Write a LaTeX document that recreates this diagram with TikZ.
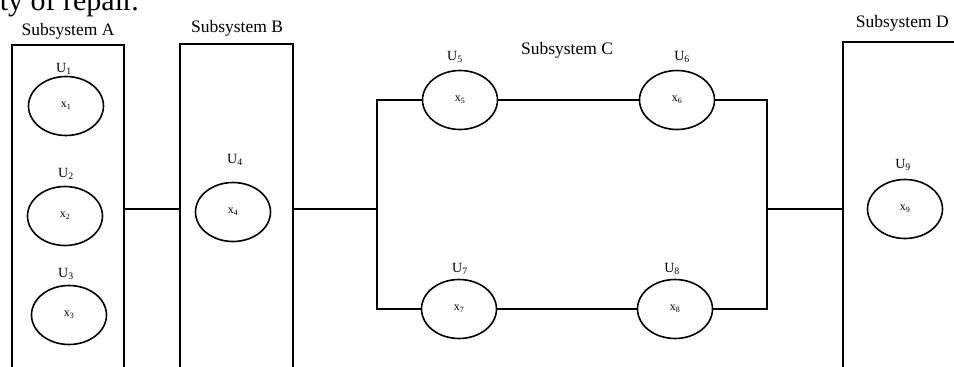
\documentclass[tikz,border=0pt]{standalone}
\usepackage{fontspec}
\setmainfont{Liberation Serif}
\usetikzlibrary{shapes.geometric}

\begin{document}
\begin{tikzpicture}[x=1pt, y=-1pt, line width=1.6pt]
	\tikzstyle{unit} = [ellipse, draw, minimum width=75pt, minimum height=59pt, inner sep=0pt, font=\fontsize{12}{14}\selectfont]
	\tikzstyle{head} = [inner sep=0pt, anchor=base, font=\fontsize{17.5}{20}\selectfont]
	\tikzstyle{rate} = [inner sep=0pt, anchor=base, font=\fontsize{14}{16}\selectfont]
	\useasboundingbox (0,0) rectangle (954,367);

	% Text cut off at the top
	\node[inner sep=0pt, anchor=base west, font=\fontsize{30}{33}\selectfont] (cut) at (-1,10) {ty of repair.};

	% Subsystem titles
	\node[head] (SA) at (68,35) {Subsystem A};
	\node[head] (SB) at (237,32) {Subsystem B};
	\node[head] (SC) at (567,54) {Subsystem C};
	\node[head, anchor=base west] (SD) at (855,27) {Subsystem D};

	% Subsystem frames (open at the bottom)
	\draw (12,375) -- (12,45) -- (124,45) -- (124,375);
	\draw (180,375) -- (180,44) -- (293,44) -- (293,375);
	\draw (843,375) -- (843,42) -- (962,42);

	% Define nodes
	\node[unit] (X1) at (66,106) {x\textsubscript{1}};
	\node[unit] (X2) at (65,216) {x\textsubscript{2}};
	\node[unit] (X3) at (69,315) {x\textsubscript{3}};
	\node[unit] (X4) at (233,212) {x\textsubscript{4}};
	\node[unit] (X5) at (460,100) {x\textsubscript{5}};
	\node[unit] (X6) at (677,100) {x\textsubscript{6}};
	\node[unit] (X7) at (459,309) {x\textsubscript{7}};
	\node[unit] (X8) at (675,309) {x\textsubscript{8}};
	\node[unit] (X9) at (905,209) {x\textsubscript{9}};

	% Rates above the units
	\node[rate] (U1) at (64,72) {U\textsubscript{1}};
	\node[rate] (U2) at (66,177) {U\textsubscript{2}};
	\node[rate] (U3) at (66,277) {U\textsubscript{3}};
	\node[rate] (U4) at (235,163) {U\textsubscript{4}};
	\node[rate] (U5) at (455,60) {U\textsubscript{5}};
	\node[rate] (U6) at (682,60) {U\textsubscript{6}};
	\node[rate] (U7) at (460,272) {U\textsubscript{7}};
	\node[rate] (U8) at (672,272) {U\textsubscript{8}};
	\node[rate] (U9) at (903,168) {U\textsubscript{9}};

	% Frame edges and junctions
	\coordinate (Aout) at (124,209);
	\coordinate (Bin) at (180,209);
	\coordinate (Bout) at (293,209);
	\coordinate (Jin) at (377,209);
	\coordinate (Jout) at (767,209);
	\coordinate (Din) at (843,209);

	% Draw connectors
	\draw (Aout) -- (Bin);
	\draw (Bout) -- (Jin);
	\draw (X5.west) -| (Jin) |- (X7.west);
	\draw (X5.east) -- (X6.west);
	\draw (X7.east) -- (X8.west);
	\draw (X6.east) -| (Jout) |- (X8.east);
	\draw (Jout) -- (Din);

\end{tikzpicture}
\end{document}
